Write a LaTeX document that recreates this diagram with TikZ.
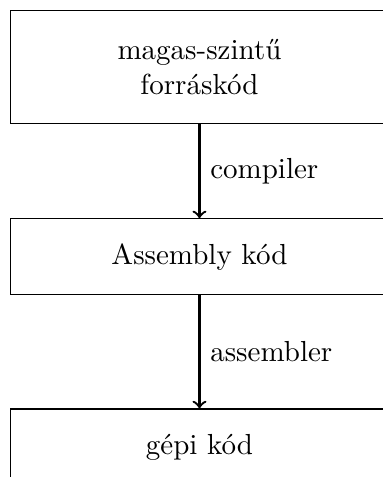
\documentclass[tikz,border=0pt]{standalone}
\usetikzlibrary{positioning}

\tikzset{every picture/.append style={scale=1}}
\tikzset{
  box/.style={draw, minimum width=4.58cm, minimum height=0.92cm, align=center},
}

\begin{document}
\begin{tikzpicture}[node distance=1.14cm]
  \useasboundingbox (0,0) rectangle (4.63,-5.78);
  \node[box, minimum height=1.37cm, anchor=north west] (src) at (0.12,-0.12) {magas-szintű\\forráskód};
  \node[box, below=of src] (asm) {Assembly kód};
  \node[box, below=1.37cm of asm] (bin) {gépi kód};
  \draw[->, thick] (src) -- node[right]{compiler} (asm);
  \draw[->, thick] (asm) -- node[right]{assembler} (bin);
\end{tikzpicture}
\end{document}
